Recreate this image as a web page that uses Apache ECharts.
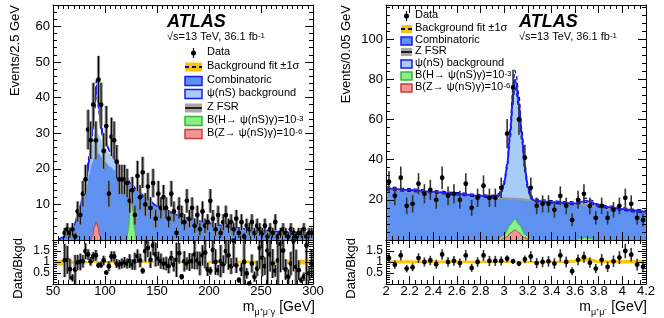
<!DOCTYPE html>
<html><head><meta charset="utf-8">
<script src="https://cdn.jsdelivr.net/npm/echarts@6/dist/echarts.min.js"></script>
<style>html,body{margin:0;padding:0;background:#fff}#c{width:664px;height:318px}</style>
</head><body><div id="c"></div>
<script>
const FF = "'Liberation Sans', Arial, Helvetica, sans-serif";

// ---------- LEFT PANEL: m(mu+ mu- gamma) ----------
const leftBinStart = 50, leftBinWidth = 2.5;
const leftCounts = [0,0,0,0,2,3,2,3,1,8,7,13,17,31,28,38,28,45,38,25,
  32,13,29,28,22,17,17,17,16,11,14,7,18,12,19,10,15,9,16,6,
  13,9,12,9,6,13,8,2,9,7,5,11,6,9,4,7,3,8,4,5,
  11,6,3,7,2,5,7,4,5,3,6,2,5,1,4,3,5,2,4,3,
  2,4,1,3,2,5,1,2,3,2,1,3,2,1,2,2,3,1,2,2];
const leftRatio = [null,null,null,null,
  1.07,1.10,0.67,0.28,0.66,0.97,1.0,1.03,1.49,1.34,
  1.03,1.25,1.30,0.85,0.87,1.07,0.52,0.81,1.25,1.25,
  0.93,0.88,0.93,0.99,0.93,1.04,0.88,1.03,1.27,1.07,
  0.60,1.49,1.64,1.10,1.75,1.34,1.15,1.04,0.93,0.93,
  0.82,1.18,0.88,1.10,1.40,0.33,1.03,0.93,1.0,1.04,
  1.34,1.07,0.93,1.30,1.42,0.66,0.60,1.55,1.0,0.63,
  1.04,0.9,1.49,1.3,0.81,1.97,0.85,0.18,0.66,1.0,
  0.48,0.03,0.93,0.33,0.7,1.64,1.19,0.81,1.52,1.34,
  0.93,0.60,1.07,1.82,1.52,0.66,0.33,0.93,1.97,0.78,
  0.63,0.18,0.33,1.75,0.48,0.93];
const leftCurveX = [55,60,65,70,75,80,82.5,85,87.5,90,92,94,96,98,100,105,110,115,120,125,130,140,150,160,170,180,200,220,240,260,280,300];
const leftTotal  = [0,0.8,2,4,8,14,18,23,30,38,43.5,38,32,29.5,27.8,24.8,22.4,19.9,17.7,15.9,14.3,11.7,9.6,8.1,7.0,6.1,4.7,3.7,3.0,2.5,2.1,1.7];
const leftPsiTop = [0,0.8,2,4,8,13.8,17.5,21.5,26.5,29.5,30.2,29.5,28.3,27,25.8,24,22,19.8,17.6,15.8,14.2,11.6,9.5,8.0,6.9,6.0,4.6,3.6,2.9,2.4,2.0,1.6];
const leftComb   = [0,0.7,1.8,3.5,7,12,15,18.5,21.5,23.5,24.5,24.3,23.5,22.6,22.0,20.6,19.5,18.3,17.0,15.5,14.0,11.5,9.4,7.9,6.8,5.9,4.5,3.5,2.8,2.3,1.9,1.5];
const leftDashX  = [82.5,85,87.5,90,92,94,96,98,100];
const leftDashUp = [18.5,23.8,31,39.5,45.5,39.5,33,30.2,28.2];
const leftDashDn = [17.5,22.2,29,36.5,41.5,36.5,31,28.8,27.4];
const leftHX = [121,122.5,124,125.5,127,128.5,130];
const leftH  = [0,3,8,10.8,8,3,0];
const leftZX = [86.5,88,90,91.5,93,95,96.5];
const leftZ  = [0,1.2,3.8,5.1,3.8,1.2,0];
const leftBandX  = [50,55,60,65,70,75,80,90,100,150,200,250,275,300];
const leftBandHi = [1.1,1.09,1.08,1.07,1.06,1.05,1.05,1.05,1.05,1.05,1.05,1.07,1.09,1.11];
const leftBandLo = [0.8,0.82,0.85,0.88,0.91,0.93,0.95,0.95,0.95,0.95,0.95,0.93,0.9,0.88];

// ---------- RIGHT PANEL: m(mu+ mu-) ----------
const rightBinStart = 2.0, rightBinWidth = 0.05;
const rightCounts = [29,22,31,17,18,28,23,25,20,31,22,23,20,28,16,21,27,21,21,26,
  53,76,60,41,26,17,18,18,15,22,17,10,20,23,17,11,17,11,15,17,21,18,11,10];
const rightRatio = [1.18,0.88,1.3,0.7,0.76,1.18,1.0,1.07,0.9,1.34,1.0,1.05,0.95,1.3,0.73,1.0,1.3,1.05,1.05,1.05,
  1.15,1.03,0.93,1.12,1.25,0.95,1.0,1.03,0.93,1.3,1.0,0.58,1.1,1.22,0.97,0.7,1.1,0.78,1.03,1.2,1.5,1.33,0.88,0.78];
const rightCurveX = [2.0,2.2,2.4,2.6,2.8,2.9,2.95,2.975,3.0,3.025,3.05,3.075,3.09,3.1,3.125,3.15,3.175,3.2,3.225,3.25,3.3,3.4,3.5,3.6,3.65,3.69,3.73,3.8,3.9,4.0,4.1,4.2];
const rightTotal = [25.8,24.9,24.0,23.0,22.0,21.6,22.3,24.0,28.5,37,53,73,80,78.5,68,52,36,26.5,21.5,19.8,19.4,18.9,18.5,18.2,19.0,19.6,19.0,17.0,16.2,15.4,14.6,13.9];
const rightUp    = [26.6,25.6,24.6,23.6,22.6,22.2,23.0,24.8,29.5,38.5,56,77,84.5,83,72,55,38,28,22.5,20.6,20.1,19.6,19.2,19.0,20.0,20.8,20.0,17.7,16.9,16.1,15.3,14.7];
const rightDn    = [25.0,24.2,23.4,22.4,21.4,21.0,21.6,23.2,27.5,35.5,50,69,76,74.5,64.5,49,34,25,20.7,19.1,18.8,18.3,17.9,17.5,18.2,18.7,18.2,16.4,15.6,14.8,14.0,13.2];
const rightCombX = [2.0,2.5,3.0,3.5,4.0,4.2];
const rightComb  = [25.2,22.9,20.6,18.2,15.2,13.7];
const rightFsrX  = [2.0,2.5,3.0,3.5,4.0,4.2];
const rightFsr   = [25.4,23.1,20.8,18.4,15.4,13.9];
const rightHX = [2.95,3.0,3.05,3.09,3.13,3.18,3.23];
const rightH  = [0,2.5,7.5,10.5,7.5,2.5,0];
const rightZX = [2.97,3.02,3.06,3.09,3.12,3.16,3.21];
const rightZ  = [0,1.5,3.8,5.0,3.8,1.5,0];
const rightH2X = [3.6,3.65,3.69,3.73,3.78];
const rightH2  = [0,0.7,1.2,0.7,0];
const rightBandX  = [2.0,2.5,3.0,3.1,3.2,3.5,3.6,3.65,3.7,3.75,3.8,4.2];
const rightBandHi = [1.08,1.07,1.05,1.04,1.05,1.06,1.1,1.18,1.2,1.15,1.08,1.09];
const rightBandLo = [0.93,0.94,0.96,0.97,0.96,0.95,0.97,1.0,1.02,0.99,0.94,0.92];

// ---------- helpers ----------
const pair = (xs, ys) => xs.map((x, i) => [x, ys[i]]);
const C = {comb:'#5e91f0', psi:'#a6ccf8', line:'#1a1aff', dash:'#00009c', green:'#88f088', greenL:'#3cb43c',
           red:'#f49494', redL:'#c83c3c', band:'#fcc400', grey:'#9a9a9a'};

function dataPts(start, width, counts) {
  const out = [];
  counts.forEach((n, i) => { if (n > 0) out.push([start + width * (i + 0.5), n, Math.sqrt(n)]); });
  return out;
}
function ratioPts(start, width, ratio, counts) {
  const out = [];
  ratio.forEach((r, i) => { if (r !== null && counts[i] > 0) out.push([start + width * (i + 0.5), r, r / Math.sqrt(counts[i])]); });
  return out;
}
function errSeries(xi, yi, pts, ymin, ymax, grey) {
  return {
    type:'custom', xAxisIndex:xi, yAxisIndex:yi, z:8, silent:true,
    dimensions:['x','y','e'], encode:{x:0, y:1}, data:pts,
    renderItem: function (params, api) {
      const x = api.value(0), y = api.value(1), e = api.value(2);
      const lo = Math.max(ymin, y - e), hi = Math.min(ymax, y + e);
      const p = api.coord([x, Math.min(Math.max(y, ymin), ymax)]);
      const pl = api.coord([x, lo]), ph = api.coord([x, hi]);
      const ch = [];
      if (grey) ch.push({type:'rect', shape:{x:p[0]-1.6, y:ph[1], width:3.2, height:pl[1]-ph[1]}, style:{fill:'#8a8a8a'}});
      ch.push({type:'line', shape:{x1:p[0], y1:ph[1], x2:p[0], y2:pl[1]}, style:{stroke: grey ? '#000' : '#333', lineWidth: grey ? 1 : 1.6}});
      if (y >= ymin && y <= ymax) ch.push({type:'circle', shape:{cx:p[0], cy:p[1], r:2.4}, style:{fill:'#000'}});
      return {type:'group', children:ch};
    }
  };
}
function area(xi, yi, d, fill, z, lineColor, lw) {
  return {type:'line', xAxisIndex:xi, yAxisIndex:yi, data:d, symbol:'none', smooth:0.3, smoothMonotone:'x', z:z, silent:true,
    lineStyle:{color: lineColor || fill, width: lw === undefined ? 0 : lw},
    areaStyle:{color:fill, opacity:1, origin:'start'}};
}
function curve(xi, yi, d, color, w, type, z) {
  return {type:'line', xAxisIndex:xi, yAxisIndex:yi, data:d, symbol:'none', smooth:0.3, smoothMonotone:'x', z:z, silent:true,
    lineStyle:{color:color, width:w, type:type || 'solid'}};
}
function xAx(gi, min, max, interval, minor, pos, labels) {
  return {type:'value', gridIndex:gi, min, max, interval, position:pos, z:10,
    axisLine:{show:true, onZero:false, lineStyle:{color:'#000', width:1}},
    axisTick:{show:true, inside:true, length:8, lineStyle:{color:'#000', width:1}},
    minorTick:{show:true, splitNumber:minor, length:4, lineStyle:{color:'#000', width:1}},
    splitLine:{show:false}, minorSplitLine:{show:false},
    axisLabel:{show:!!labels, color:'#000', fontSize:13, fontFamily:FF, margin:1,
      formatter: v => String(+v.toFixed(2))}};
}
function yAx(gi, min, max, interval, minor, pos, labels, hide) {
  return {type:'value', gridIndex:gi, min, max, interval, position:pos, z:10,
    axisLine:{show:true, onZero:false, lineStyle:{color:'#000', width:1}},
    axisTick:{show:true, inside:true, length:8, lineStyle:{color:'#000', width:1}},
    minorTick:{show:true, splitNumber:minor, length:4, lineStyle:{color:'#000', width:1}},
    splitLine:{show:false}, minorSplitLine:{show:false},
    axisLabel:{show:!!labels, color:'#000', fontSize:labels === 'r' ? 12 : 13, fontFamily:FF, margin:3,
      showMaxLabel:false, showMinLabel:false,
      formatter: v => (hide(v) ? '' : String(+v.toFixed(2)))}};
}

const grids = [
  {left:53, top:5, width:260, height:235},
  {left:53, top:240, width:260, height:44},
  {left:386, top:5, width:260, height:235},
  {left:386, top:240, width:260, height:44}
].map(g => Object.assign({show:false, containLabel:false, outerBoundsMode:'none'}, g));

const xAxes = [
  xAx(0, 50, 300, 50, 10, 'bottom', false), xAx(0, 50, 300, 50, 10, 'top', false),
  xAx(1, 50, 300, 50, 10, 'bottom', true),  xAx(1, 50, 300, 50, 10, 'top', false),
  xAx(2, 2, 4.2, 0.2, 4, 'bottom', false),  xAx(2, 2, 4.2, 0.2, 4, 'top', false),
  xAx(3, 2, 4.2, 0.2, 4, 'bottom', true),   xAx(3, 2, 4.2, 0.2, 4, 'top', false)
];
const hideMain = v => v === 0 || v % 10 !== 0;
const hideR = v => v <= 0.01 || v >= 1.99;
const yAxes = [
  yAx(0, 0, 66, 10, 5, 'left', true, hideMain), yAx(0, 0, 66, 10, 5, 'right', false, hideMain),
  yAx(1, 0, 2, 0.5, 5, 'left', 'r', hideR),     yAx(1, 0, 2, 0.5, 5, 'right', false, hideR),
  yAx(2, 0, 117, 20, 5, 'left', true, v => v === 0 || v % 20 !== 0), yAx(2, 0, 117, 20, 5, 'right', false, hideMain),
  yAx(3, 0, 2, 0.5, 5, 'left', 'r', hideR),     yAx(3, 0, 2, 0.5, 5, 'right', false, hideR)
];

const series = [
  // left main
  area(0, 0, pair(leftCurveX, leftPsiTop), C.psi, 2),
  area(0, 0, pair(leftCurveX, leftComb), C.comb, 3),
  area(0, 0, pair(leftZX, leftZ), C.red, 4, C.redL, 1),
  area(0, 0, pair(leftHX, leftH), C.green, 4, C.greenL, 1),
  curve(0, 0, pair(leftDashX, leftDashUp), C.dash, 1.2, [4, 3], 5),
  curve(0, 0, pair(leftDashX, leftDashDn), C.dash, 1.2, [4, 3], 5),
  curve(0, 0, pair(leftCurveX, leftTotal), C.line, 1.8, 'solid', 6),
  errSeries(0, 0, dataPts(leftBinStart, leftBinWidth, leftCounts), 0, 66, true),
  // left ratio
  area(2, 2, pair(leftBandX, leftBandHi), C.band, 2),
  area(2, 2, pair(leftBandX, leftBandLo), '#ffffff', 3),
  errSeries(2, 2, ratioPts(leftBinStart, leftBinWidth, leftRatio, leftCounts), 0, 2, true),
  // right main
  area(4, 4, pair(rightCurveX, rightTotal), C.psi, 2),
  area(4, 4, pair(rightCombX, rightComb), C.comb, 3),
  curve(4, 4, pair(rightFsrX, rightFsr), C.grey, 2, 'solid', 4),
  area(4, 4, pair(rightHX, rightH), C.green, 4, C.greenL, 1),
  area(4, 4, pair(rightH2X, rightH2), C.green, 4, C.greenL, 1),
  area(4, 4, pair(rightZX, rightZ), C.red, 4, C.redL, 1),
  curve(4, 4, pair(rightCurveX, rightUp), C.dash, 1.2, [4, 3], 5),
  curve(4, 4, pair(rightCurveX, rightDn), C.dash, 1.2, [4, 3], 5),
  curve(4, 4, pair(rightCurveX, rightTotal), C.line, 1.8, 'solid', 6),
  errSeries(4, 4, dataPts(rightBinStart, rightBinWidth, rightCounts), 0, 117, false),
  // right ratio
  area(6, 6, pair(rightBandX, rightBandHi), C.band, 2),
  area(6, 6, pair(rightBandX, rightBandLo), '#ffffff', 3),
  errSeries(6, 6, ratioPts(rightBinStart, rightBinWidth, rightRatio, rightCounts), 0, 2, false)
];

// ---------- text / legend graphics ----------
const G = [];
function T(x, y, text, st, extra) {
  G.push(Object.assign({type:'text', x:x, y:y, z:100, silent:true,
    style:Object.assign({text:text, fill:'#000', fontSize:11, fontFamily:FF, align:'left', verticalAlign:'middle'}, st || {})}, extra || {}));
}
const supRich = {
  n:{fontSize:11, fontFamily:FF, lineHeight:13, verticalAlign:'top'},
  s:{fontSize:8, fontFamily:FF, lineHeight:9, verticalAlign:'top'}
};
function legend(bx, bw, bh, tx, rows) {
  rows.forEach(r => {
    const y = r.y;
    if (r.k === 'data') {
      G.push({type:'line', z:100, shape:{x1:bx+bw/2, y1:y-5, x2:bx+bw/2, y2:y+5}, style:{stroke:'#000', lineWidth:1.2}});
      G.push({type:'circle', z:101, shape:{cx:bx+bw/2, cy:y, r:2.5}, style:{fill:'#000'}});
    } else if (r.k === 'fit') {
      G.push({type:'rect', z:100, shape:{x:bx, y:y-bh/2, width:bw, height:bh}, style:{fill:C.band}});
      G.push({type:'line', z:101, shape:{x1:bx, y1:y, x2:bx+bw, y2:y}, style:{stroke:C.dash, lineWidth:2, lineDash:[4,3]}});
    } else if (r.k === 'fsr') {
      G.push({type:'rect', z:100, shape:{x:bx, y:y-bh/2, width:bw, height:bh}, style:{fill:'#a8a8a8'}});
      G.push({type:'line', z:101, shape:{x1:bx, y1:y, x2:bx+bw, y2:y}, style:{stroke:'#222', lineWidth:2}});
    } else {
      G.push({type:'rect', z:100, shape:{x:bx, y:y-bh/2, width:bw, height:bh}, style:{fill:r.f, stroke:r.s, lineWidth:1.5}});
    }
    T(tx, y, r.t, {rich:supRich, verticalAlign:'middle'});
  });
}
const L_H = '{n|B(H\u2192 \u03c8(nS)\u03b3)=10}{s|-3}';
const L_Z = '{n|B(Z\u2192 \u03c8(nS)\u03b3)=10}{s|-6}';
legend(185, 17, 9, 207, [
  {y:53, k:'data', t:'{n|Data}'},
  {y:67, k:'fit', t:'{n|Background fit \u00b11\u03c3}'},
  {y:81, k:'box', f:C.comb, s:C.line, t:'{n|Combinatoric}'},
  {y:94, k:'box', f:C.psi, s:C.line, t:'{n|\u03c8(nS) background}'},
  {y:108, k:'fsr', t:'{n|Z FSR}'},
  {y:121, k:'box', f:C.green, s:C.greenL, t:L_H},
  {y:134, k:'box', f:C.red, s:C.redL, t:L_Z}
]);
legend(401, 11, 8, 415, [
  {y:16, k:'data', t:'{n|Data}'},
  {y:29, k:'fit', t:'{n|Background fit \u00b11\u03c3}'},
  {y:41, k:'box', f:C.comb, s:C.line, t:'{n|Combinatoric}'},
  {y:52, k:'fsr', t:'{n|Z FSR}'},
  {y:64, k:'box', f:C.psi, s:C.line, t:'{n|\u03c8(nS) background}'},
  {y:76, k:'box', f:C.green, s:C.greenL, t:L_H},
  {y:88, k:'box', f:C.red, s:C.redL, t:L_Z}
]);
// ATLAS labels
[[167, 22, 38], [519, 22, 38]].forEach(a => {
  T(a[0], a[1], 'ATLAS', {fontSize:18, fontWeight:'bold', fontStyle:'italic'});
  T(a[0], a[2], '{n|\u221as=13 TeV, 36.1 fb}{s|-1}', {rich:supRich});
});
// axis titles
const rot = {rotation:Math.PI/2};
T(15, 5, 'Events/2.5 GeV', {fontSize:13, align:'right'}, rot);
T(18, 238, 'Data/Bkgd', {fontSize:13, align:'right'}, rot);
T(346, 5, 'Events/0.05 GeV', {fontSize:13, align:'right'}, rot);
T(351, 238, 'Data/Bkgd', {fontSize:13, align:'right'}, rot);
const xRich = {
  m:{fontSize:14, fontFamily:FF, lineHeight:16, verticalAlign:'top'},
  b:{fontSize:9, fontFamily:FF, lineHeight:10, padding:[8,0,0,0], verticalAlign:'top'}
};
T(315, 308, '{m|m}{b|\u03bc\u207a\u03bc\u207b\u03b3}{m| [GeV]}', {rich:xRich, align:'right', verticalAlign:'middle'});
T(647, 308, '{m|m}{b|\u03bc\u207a\u03bc\u207b}{m| [GeV]}', {rich:xRich, align:'right', verticalAlign:'middle'});

const chart = echarts.init(document.getElementById('c'), null, {renderer:'canvas'});
chart.setOption({
  animation:false, backgroundColor:'#fff',
  textStyle:{fontFamily:FF},
  grid:grids, xAxis:xAxes, yAxis:yAxes, series:series, graphic:G
});
</script>
</body></html>
